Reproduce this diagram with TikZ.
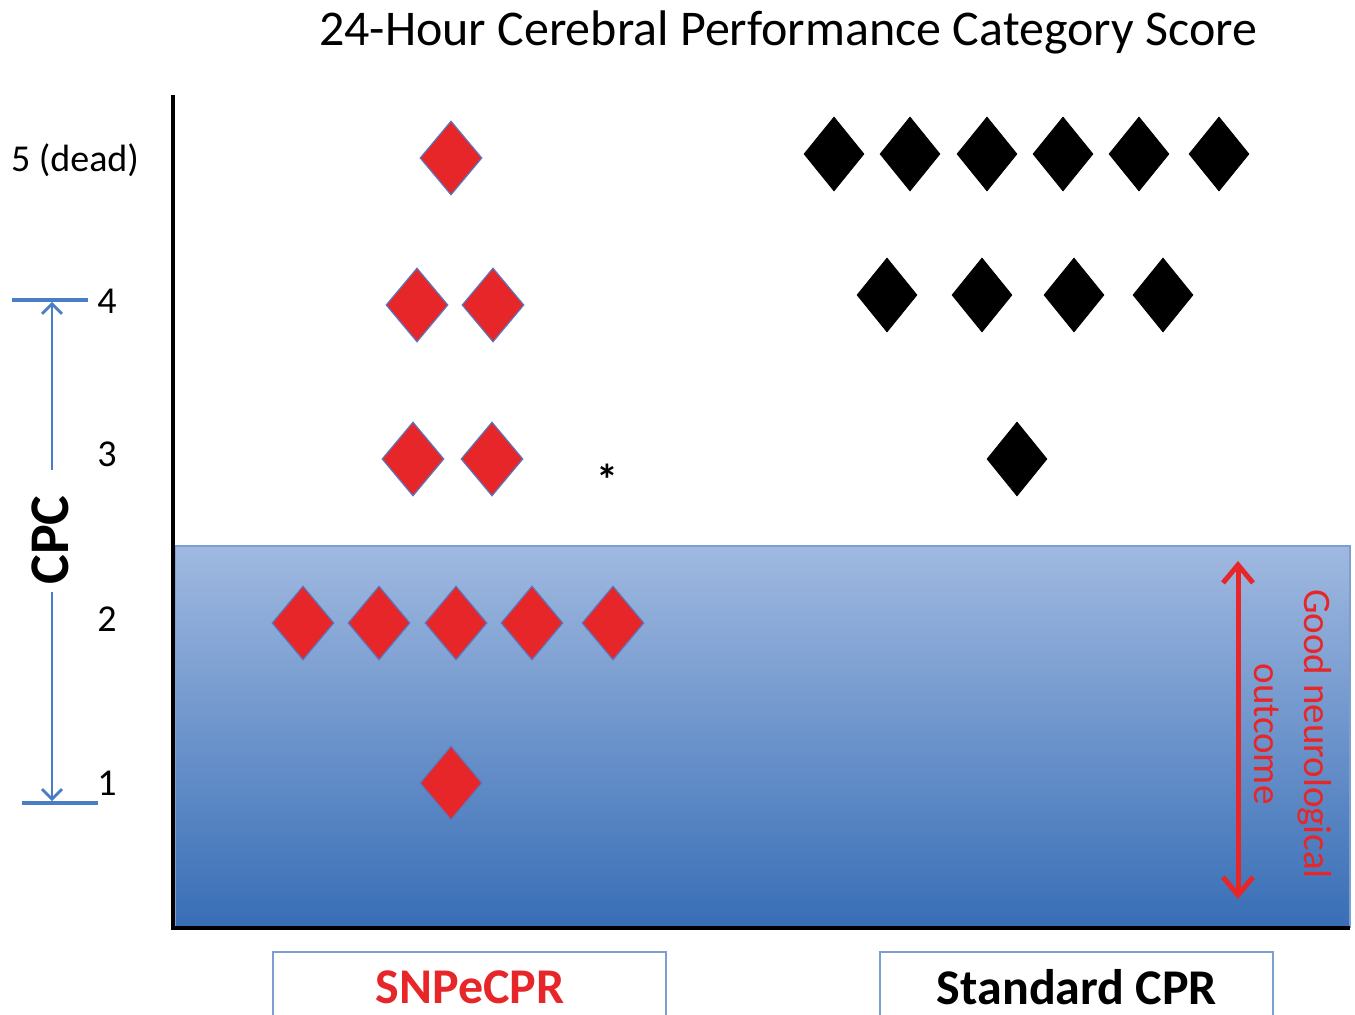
\documentclass[tikz,border=0pt]{standalone}
\usepackage{fontspec}
\setmainfont{Carlito}
\usetikzlibrary{shapes.geometric,arrows.meta}
\definecolor{dred}{RGB}{230,38,40}
\definecolor{dblue}{RGB}{74,126,196}
\definecolor{gtop}{RGB}{160,185,224}
\definecolor{gbot}{RGB}{56,110,182}
\definecolor{dedge}{RGB}{90,120,190}
\definecolor{boxedge}{RGB}{125,158,210}
\begin{document}
\begin{tikzpicture}[x=0.5pt,y=-0.5pt,
  rdia/.style={diamond,draw=dedge,line width=0.6pt,fill=dred,inner sep=0pt,minimum width=31pt,minimum height=37pt},
  bdia/.style={diamond,draw=black,fill=black,inner sep=0pt,minimum width=30pt,minimum height=37pt},
  ylab/.style={font=\fontsize{19}{23}\selectfont},
  axis/.style={line width=2pt,black},
  catbox/.style={draw=boxedge,line width=0.8pt},
  cattext/.style={font=\fontsize{25}{30}\selectfont\bfseries}]
\useasboundingbox (0,0) rectangle (1355,1015);
% title
\node[font=\fontsize{25}{30}\selectfont] (title) at (788,32) {24-Hour Cerebral Performance Category Score};
% shaded region
\shade[top color=gtop,bottom color=gbot,draw=boxedge,line width=0.6pt] (175,546) rectangle (1350,927);
% axes
\coordinate (ytop) at (173,95);
\coordinate (orig) at (173,928);
\coordinate (xend) at (1350,928);
\draw[axis] (ytop) -- (orig) -- (xend);
% y labels
\node[ylab] (l5) at (75,160) {5 (dead)};
\node[ylab] (l4) at (107,301) {4};
\node[ylab] (l3) at (107,454) {3};
\node[ylab] (l2) at (107,619) {2};
\node[ylab] (l1) at (107,783) {1};
% CPC dimension
\coordinate (t4a) at (12,300); \coordinate (t4b) at (88,300);
\coordinate (t1a) at (22,803); \coordinate (t1b) at (98,803);
\draw[dblue,line width=1.6pt] (t4a) -- (t4b);
\draw[dblue,line width=1.6pt] (t1a) -- (t1b);
\node[rotate=90,font=\fontsize{28}{32}\selectfont\bfseries] (cpc) at (50,540) {CPC};
\coordinate (atop) at (52,302); \coordinate (abot) at (52,801);
\coordinate (gtopc) at (52,470); \coordinate (gbotc) at (52,592);
\draw[dblue,line width=1.4pt,-{Straight Barb[length=5pt,width=10pt]}] (gtopc) -- (atop);
\draw[dblue,line width=1.4pt,-{Straight Barb[length=5pt,width=10pt]}] (gbotc) -- (abot);
% red diamonds
\node[rdia] (r51) at (451,158) {};
\node[rdia] (r41) at (417,305) {};
\node[rdia] (r42) at (493,305) {};
\node[rdia] (r31) at (413,459) {};
\node[rdia] (r32) at (492,459) {};
\node[rdia] (r21) at (303,623) {};
\node[rdia] (r22) at (379,623) {};
\node[rdia] (r23) at (456,623) {};
\node[rdia] (r24) at (532,623) {};
\node[rdia] (r25) at (613,623) {};
\node[rdia] (r11) at (451,783) {};
% asterisk
\node[font=\fontsize{22}{26}\selectfont\bfseries] (ast) at (607,480) {*};
% black diamonds
\node[bdia] (b51) at (834,154) {};
\node[bdia] (b52) at (910,154) {};
\node[bdia] (b53) at (987,154) {};
\node[bdia] (b54) at (1063,154) {};
\node[bdia] (b55) at (1139,154) {};
\node[bdia] (b56) at (1219,154) {};
\node[bdia] (b41) at (887,295) {};
\node[bdia] (b42) at (982,295) {};
\node[bdia] (b43) at (1074,295) {};
\node[bdia] (b44) at (1163,295) {};
\node[bdia] (b31) at (1017,459) {};
% good outcome arrow
\coordinate (gatop) at (1238,561);
\coordinate (gabot) at (1238,899);
\draw[dred,line width=2.5pt,{Straight Barb[length=9pt,width=15pt]}-{Straight Barb[length=9pt,width=15pt]}] (gatop) -- (gabot);
\node[rotate=-90,text=dred,align=center,font=\fontsize{19.5}{25}\selectfont] (good) at (1293,734) {Good neurological\\outcome};
% category boxes
\draw[catbox] (273,952) rectangle (666,1025);
\draw[catbox] (880,952) rectangle (1273,1025);
\node[cattext,text=dred] (snpe) at (470,987) {SNPeCPR};
\node[cattext,text=black] (std) at (1077,987) {Standard CPR};
\end{tikzpicture}
\end{document}
